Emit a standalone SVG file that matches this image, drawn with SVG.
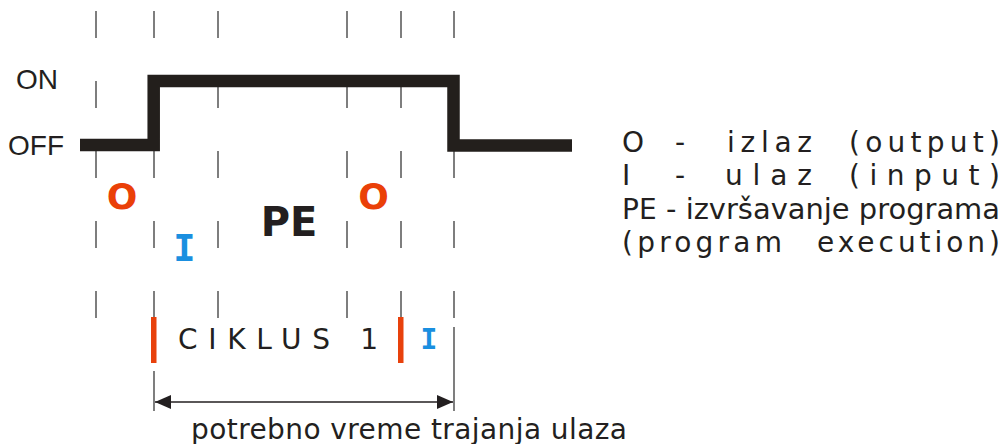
<svg xmlns="http://www.w3.org/2000/svg" width="1004" height="444" viewBox="0 0 1004 444">
  <style>
    .grid { stroke: #3a3a3a; stroke-width: 1.3; fill: none; }
    .dash { stroke-dasharray: 27 43; }
    .signal { stroke: #231f1c; stroke-width: 12.5; fill: none; stroke-linejoin: miter; stroke-linecap: butt; }
    .lbl { font-family: "Liberation Sans", Arial, sans-serif; font-size: 28px; fill: #231f20; }
    .txt { font-family: "DejaVu Sans", Verdana, sans-serif; font-size: 28px; fill: #231f20; }
    .out { font-family: "DejaVu Sans", Verdana, sans-serif; font-weight: bold; font-size: 36px; fill: #ea4008; text-anchor: middle; }
    .inp { font-family: "DejaVu Sans Mono", monospace; font-weight: bold; fill: #1a8fe0; text-anchor: middle; }
    .pe { font-family: "DejaVu Sans", Verdana, sans-serif; font-weight: bold; font-size: 40px; fill: #231f20; text-anchor: middle; }
    .bar { fill: #e8410c; }
    .dim { stroke: #231f20; stroke-width: 1.5; fill: none; }
  </style>
  <defs>
    <marker id="arrow" viewBox="0 0 16 14" refX="16" refY="7" markerWidth="16" markerHeight="14" markerUnits="userSpaceOnUse" orient="auto-start-reverse">
      <path d="M0,0 L16,7 L0,14 Z" fill="#231f20"/>
    </marker>
  </defs>

  <!-- time grid -->
  <g id="grid">
    <line class="grid dash" x1="96" y1="11" x2="96" y2="318"/>
    <line class="grid dash" x1="154" y1="11" x2="154" y2="318"/>
    <line class="grid" x1="154" y1="371" x2="154" y2="411"/>
    <line class="grid dash" x1="218" y1="11" x2="218" y2="318"/>
    <line class="grid dash" x1="347" y1="11" x2="347" y2="318"/>
    <line class="grid dash" x1="401" y1="11" x2="401" y2="318"/>
    <line class="grid dash" x1="454" y1="11" x2="454" y2="318"/>
    <line class="grid" x1="454" y1="327" x2="454" y2="411"/>
  </g>

  <!-- input signal -->
  <g id="signal">
    <path class="signal" d="M80,145 H153.7 V81 H453.5 V145.5 H572"/>
  </g>

  <g id="level-labels">
    <text class="lbl" x="16" y="89">ON</text>
    <text class="lbl" x="8" y="155">OFF</text>
  </g>

  <!-- scan phases -->
  <g id="phase-o1"><text class="out" x="122" y="209">O</text></g>
  <g id="phase-i1"><text class="inp" x="184.5" y="261" font-size="37">I</text></g>
  <g id="phase-pe"><text class="pe" x="289" y="236">PE</text></g>
  <g id="phase-o2"><text class="out" x="373.5" y="209">O</text></g>

  <!-- cycle marker -->
  <g id="cycle">
    <rect class="bar" x="151" y="317" width="5.5" height="46"/>
    <rect class="bar" x="398" y="317" width="5.5" height="46"/>
    <text class="txt" x="178" y="349" textLength="200" lengthAdjust="spacing">CIKLUS 1</text>
    <text class="inp" x="429" y="349" font-size="28">I</text>
  </g>

  <!-- required input duration -->
  <g id="connectors">
    <line class="dim" x1="155" y1="402" x2="453" y2="402" marker-start="url(#arrow)" marker-end="url(#arrow)"/>
  </g>
  <g id="duration-label">
    <text class="txt" x="191" y="439" textLength="436" lengthAdjust="spacing">potrebno vreme trajanja ulaza</text>
  </g>

  <!-- legend -->
  <g id="legend" class="txt">
    <text class="txt" x="622" y="152">O</text>
    <text class="txt" x="675" y="152">-</text>
    <text class="txt" x="727" y="152" textLength="85" lengthAdjust="spacing">izlaz</text>
    <text class="txt" x="849" y="152" textLength="151" lengthAdjust="spacing">(output)</text>

    <text class="txt" x="622" y="185">I</text>
    <text class="txt" x="675" y="185">-</text>
    <text class="txt" x="725" y="185" textLength="87" lengthAdjust="spacing">ulaz</text>
    <text class="txt" x="849" y="185" textLength="151" lengthAdjust="spacing">(input)</text>

    <text class="txt" x="622" y="219">PE</text>
    <text class="txt" x="666" y="219" textLength="334" lengthAdjust="spacingAndGlyphs">- izvršavanje programa</text>

    <text class="txt" x="622" y="252" textLength="160" lengthAdjust="spacing">(program</text>
    <text class="txt" x="817" y="252" textLength="183" lengthAdjust="spacing">execution)</text>
  </g>
</svg>
